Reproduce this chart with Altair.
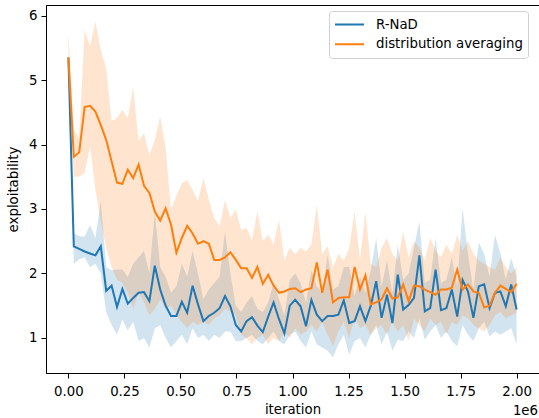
import altair as alt
import pandas as pd

# ---------------- data ----------------
N_POINTS = 84
iterations = [round(i * 2_000_000 / (N_POINTS - 1)) for i in range(N_POINTS)]

methods = ["R-NaD", "distribution averaging"]
colors = ["#1f77b4", "#ff7f0e"]

rnad_mean = [5.35, 2.42, 2.38, 2.34, 2.31, 2.28, 2.42, 1.73, 1.81, 1.48,
             1.76, 1.53, 1.62, 1.70, 1.71, 1.57, 2.12, 1.75, 1.50, 1.34,
             1.34, 1.56, 1.39, 1.81, 1.52, 1.26, 1.34, 1.39, 1.46, 1.65,
             1.49, 1.20, 1.10, 1.26, 1.32, 1.19, 1.09, 1.33, 1.55, 1.29,
             1.07, 1.50, 1.59, 1.49, 1.18, 1.59, 1.36, 1.26, 1.34, 1.34,
             1.36, 1.58, 1.23, 1.26, 1.49, 1.26, 1.50, 1.88, 1.31, 1.67,
             1.23, 1.98, 1.44, 1.51, 1.62, 2.28, 1.41, 1.46, 2.06, 1.43,
             1.46, 1.75, 1.33, 1.90, 1.72, 1.31, 1.80, 1.83, 1.46, 1.70,
             1.72, 1.49, 1.83, 1.44]
rnad_low = [5.30, 2.15, 2.22, 2.25, 2.10, 2.15, 2.00, 1.40, 1.20, 1.05,
            1.28, 1.12, 1.25, 0.95, 1.00, 0.85, 1.15, 1.20, 1.00, 0.85,
            0.95, 1.05, 0.90, 1.15, 1.00, 1.05, 0.95, 1.05, 1.00, 1.10,
            1.10, 0.95, 0.95, 1.00, 1.05, 0.95, 0.90, 1.00, 1.10, 0.95,
            0.90, 1.05, 1.10, 0.95, 0.85, 1.10, 0.90, 0.85, 0.80, 0.70,
            0.90, 1.05, 0.74, 0.95, 1.00, 0.85, 1.05, 1.20, 0.90, 1.10,
            0.80, 0.97, 0.95, 1.10, 1.00, 1.30, 0.97, 1.10, 1.20, 1.00,
            1.10, 0.95, 0.87, 1.20, 1.05, 0.95, 1.15, 1.25, 1.02, 1.10,
            1.05, 1.10, 1.15, 0.90]
rnad_high = [5.40, 2.62, 2.58, 2.57, 2.75, 2.55, 3.12, 2.10, 2.05, 2.06,
             2.06, 1.95, 2.15, 2.25, 2.35, 2.00, 2.95, 2.10, 1.95, 1.70,
             1.80, 2.15, 1.95, 2.35, 2.00, 1.60, 1.75, 1.85, 1.95, 2.65,
             2.00, 1.50, 1.40, 1.55, 1.65, 1.45, 1.40, 1.55, 1.85, 1.60,
             1.35, 1.90, 2.00, 1.85, 1.55, 2.05, 1.80, 1.70, 2.29, 1.75,
             1.80, 2.10, 2.10, 1.65, 1.95, 1.70, 2.05, 2.55, 1.80, 2.20,
             1.70, 2.45, 1.90, 2.00, 2.40, 2.81, 1.85, 1.90, 2.55, 1.85,
             1.90, 2.25, 1.80, 3.01, 2.30, 1.75, 2.48, 2.30, 1.95, 2.60,
             2.30, 1.90, 2.24, 1.95]

avg_mean = [5.35, 3.81, 3.88, 4.58, 4.60, 4.51, 4.30, 4.07, 3.74, 3.41,
            3.39, 3.61, 3.48, 3.69, 3.36, 3.25, 2.96, 2.82, 3.01, 2.76,
            2.32, 2.55, 2.74, 2.62, 2.46, 2.50, 2.46, 2.21, 2.21, 2.25,
            2.33, 2.21, 2.08, 2.08, 1.93, 2.10, 1.84, 1.98, 1.81, 1.70,
            1.72, 1.76, 1.77, 1.71, 1.75, 1.77, 2.17, 1.70, 2.06, 1.55,
            1.62, 1.63, 1.63, 2.10, 1.75, 1.97, 1.52, 1.55, 1.60, 1.77,
            1.61, 1.63, 1.83, 1.57, 1.81, 1.80, 1.75, 1.71, 1.67, 1.75,
            1.75, 1.78, 2.06, 1.75, 1.83, 1.72, 1.70, 1.47, 1.50, 1.70,
            1.81, 1.76, 1.71, 1.84]
avg_low = [5.30, 3.50, 3.50, 3.56, 3.97, 3.30, 2.80, 2.40, 2.10, 1.90,
           1.85, 1.70, 1.45, 1.70, 1.55, 1.35, 1.45, 1.60, 1.45, 1.50,
           1.35, 1.25, 1.15, 1.25, 1.20, 1.25, 1.20, 1.30, 1.35, 1.45,
           1.40, 1.35, 1.05, 1.00, 0.90, 1.00, 1.05, 0.90, 1.00, 0.95,
           1.10, 1.00, 1.15, 1.05, 1.10, 1.20, 1.10, 1.25, 1.05, 0.87,
           1.10, 1.25, 1.00, 1.30, 1.15, 1.20, 1.05, 1.15, 1.20, 1.05,
           1.25, 1.10, 1.20, 0.95, 1.30, 1.20, 1.10, 1.30, 1.20, 1.25,
           1.05, 1.25, 1.20, 1.35, 1.30, 1.20, 1.15, 1.10, 1.20, 1.35,
           1.40, 1.30, 1.35, 1.39]
avg_high = [5.73, 4.23, 4.10, 5.78, 5.52, 5.91, 5.47, 5.18, 4.36, 4.41,
            4.54, 4.41, 4.89, 4.05, 4.18, 3.84, 4.07, 4.44, 3.95, 3.00,
            3.20, 3.40, 3.45, 3.30, 3.12, 3.48, 3.15, 2.86, 2.73, 3.14,
            2.86, 2.99, 2.68, 2.70, 2.52, 2.96, 2.50, 2.60, 2.45, 2.83,
            2.20, 2.40, 2.30, 2.40, 2.34, 2.45, 3.06, 2.30, 2.42, 2.10,
            2.30, 2.20, 2.40, 2.96, 2.20, 2.95, 2.15, 2.10, 2.40, 2.55,
            2.30, 2.20, 2.65, 2.25, 2.50, 2.40, 2.20, 2.55, 2.35, 2.25,
            2.45, 2.30, 2.60, 2.35, 2.50, 2.30, 2.20, 2.15, 2.10, 2.05,
            2.25, 2.10, 2.00, 2.10]

x_ticks = [0, 250000, 500000, 750000, 1000000, 1250000, 1500000, 1750000, 2000000]
y_ticks = [1, 2, 3, 4, 5, 6]
offset_label = ["1e6"]

FONT = "DejaVu Sans"
FS = 13.3
W, H = 493, 368


def frame(name, mean, low, high):
    return pd.DataFrame({"iteration": iterations, "exploitability": mean,
                         "low": low, "high": high, "method": name})


xscale = alt.Scale(domain=[-100000, 2100000], nice=False, zero=False)
yscale = alt.Scale(domain=[0.455, 6.165], nice=False, zero=False)
x_axis = alt.Axis(values=x_ticks, labelExpr="format(datum.value / 1000000, '.2f')",
                  labelPadding=6, titlePadding=5)
y_axis = alt.Axis(values=y_ticks, format="d", labelPadding=4, titlePadding=8)

color_scale = alt.Scale(domain=methods, range=colors)
legend = alt.Legend(title=None, orient="none", legendX=283, legendY=6,
                    symbolType="stroke", symbolSize=841, symbolStrokeWidth=2,
                    labelFontSize=FS, labelFont=FONT, labelColor="#000000",
                    labelOffset=11, padding=5, strokeColor="#d0d0d0",
                    fillColor="rgba(255,255,255,0.8)", cornerRadius=3,
                    clipHeight=17, rowPadding=2.8)

series = [
    (methods[0], colors[0], rnad_mean, rnad_low, rnad_high),
    (methods[1], colors[1], avg_mean, avg_low, avg_high),
]

bands, lines = [], []
for name, c, mean, low, high in series:
    df = frame(name, mean, low, high)
    bands.append(alt.Chart(df).mark_area(opacity=0.2, color=c).encode(
        x=alt.X("iteration:Q", scale=xscale, axis=x_axis, title="iteration"),
        y=alt.Y("low:Q", scale=yscale, axis=y_axis, title="exploitability"),
        y2="high:Q",
    ))
    lines.append(alt.Chart(df).mark_line(strokeWidth=2).encode(
        x=alt.X("iteration:Q", scale=xscale, axis=x_axis, title="iteration"),
        y=alt.Y("exploitability:Q", scale=yscale, axis=y_axis, title="exploitability"),
        color=alt.Color("method:N", scale=color_scale, legend=legend),
    ))

offset_text = alt.Chart(pd.DataFrame({"t": offset_label})).mark_text(
    align="right", baseline="alphabetic", font=FONT, fontSize=FS, color="#000000"
).encode(text="t:N", x=alt.value(W - 1), y=alt.value(H + 42))

chart = alt.layer(*bands, *lines, offset_text).properties(
    width=W, height=H,
    autosize=alt.AutoSizeParams(type="none"),
    padding={"left": 46, "top": 5, "right": 0, "bottom": 45},
).configure_view(stroke="#000000", strokeWidth=1).configure_axis(
    grid=False, domainColor="#000000", domainWidth=1, tickColor="#000000",
    tickSize=5, tickWidth=1, labelColor="#000000", labelFont=FONT, labelFontSize=FS,
    titleFont=FONT, titleFontSize=FS, titleFontWeight="normal", titleColor="#000000",
)

chart.save("out.html", embed_options={"renderer": "svg", "actions": False})
